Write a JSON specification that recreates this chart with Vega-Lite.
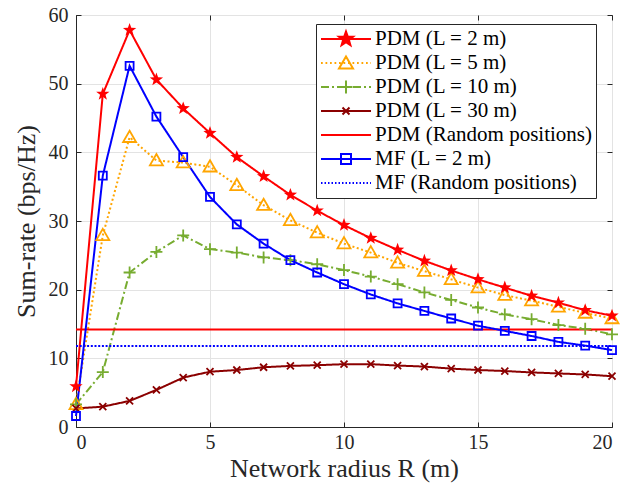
{
  "$schema": "https://vega.github.io/schema/vega-lite/v6.json",
  "width": 536,
  "height": 412,
  "autosize": {"type": "none"},
  "padding": {"left": 76, "top": 15, "right": 22, "bottom": 62},
  "background": "white",
  "config": {"view": {"stroke": "#262626", "strokeWidth": 1}, "font": "Liberation Serif, DejaVu Serif, serif"},
  "data": {"values": [
    {"s":"PDM (L = 2 m)","x":0,"y":5.9},{"s":"PDM (L = 2 m)","x":1,"y":48.5},{"s":"PDM (L = 2 m)","x":2,"y":57.8},{"s":"PDM (L = 2 m)","x":3,"y":50.6},{"s":"PDM (L = 2 m)","x":4,"y":46.4},{"s":"PDM (L = 2 m)","x":5,"y":42.8},{"s":"PDM (L = 2 m)","x":6,"y":39.3},{"s":"PDM (L = 2 m)","x":7,"y":36.5},{"s":"PDM (L = 2 m)","x":8,"y":33.8},{"s":"PDM (L = 2 m)","x":9,"y":31.5},{"s":"PDM (L = 2 m)","x":10,"y":29.4},{"s":"PDM (L = 2 m)","x":11,"y":27.5},{"s":"PDM (L = 2 m)","x":12,"y":25.8},{"s":"PDM (L = 2 m)","x":13,"y":24.2},{"s":"PDM (L = 2 m)","x":14,"y":22.8},{"s":"PDM (L = 2 m)","x":15,"y":21.5},{"s":"PDM (L = 2 m)","x":16,"y":20.3},{"s":"PDM (L = 2 m)","x":17,"y":19.1},{"s":"PDM (L = 2 m)","x":18,"y":18.1},{"s":"PDM (L = 2 m)","x":19,"y":17.0},{"s":"PDM (L = 2 m)","x":20,"y":16.2},
    {"s":"PDM (L = 5 m)","x":0,"y":3.3},{"s":"PDM (L = 5 m)","x":1,"y":27.9},{"s":"PDM (L = 5 m)","x":2,"y":42.2},{"s":"PDM (L = 5 m)","x":3,"y":38.8},{"s":"PDM (L = 5 m)","x":4,"y":38.5},{"s":"PDM (L = 5 m)","x":5,"y":37.9},{"s":"PDM (L = 5 m)","x":6,"y":35.2},{"s":"PDM (L = 5 m)","x":7,"y":32.3},{"s":"PDM (L = 5 m)","x":8,"y":30.1},{"s":"PDM (L = 5 m)","x":9,"y":28.3},{"s":"PDM (L = 5 m)","x":10,"y":26.7},{"s":"PDM (L = 5 m)","x":11,"y":25.4},{"s":"PDM (L = 5 m)","x":12,"y":23.9},{"s":"PDM (L = 5 m)","x":13,"y":22.7},{"s":"PDM (L = 5 m)","x":14,"y":21.5},{"s":"PDM (L = 5 m)","x":15,"y":20.3},{"s":"PDM (L = 5 m)","x":16,"y":19.2},{"s":"PDM (L = 5 m)","x":17,"y":18.4},{"s":"PDM (L = 5 m)","x":18,"y":17.5},{"s":"PDM (L = 5 m)","x":19,"y":16.6},{"s":"PDM (L = 5 m)","x":20,"y":15.8},
    {"s":"PDM (L = 10 m)","x":0,"y":3.3},{"s":"PDM (L = 10 m)","x":1,"y":8.0},{"s":"PDM (L = 10 m)","x":2,"y":22.5},{"s":"PDM (L = 10 m)","x":3,"y":25.5},{"s":"PDM (L = 10 m)","x":4,"y":27.9},{"s":"PDM (L = 10 m)","x":5,"y":25.9},{"s":"PDM (L = 10 m)","x":6,"y":25.4},{"s":"PDM (L = 10 m)","x":7,"y":24.7},{"s":"PDM (L = 10 m)","x":8,"y":24.3},{"s":"PDM (L = 10 m)","x":9,"y":23.7},{"s":"PDM (L = 10 m)","x":10,"y":22.85},{"s":"PDM (L = 10 m)","x":11,"y":21.9},{"s":"PDM (L = 10 m)","x":12,"y":20.8},{"s":"PDM (L = 10 m)","x":13,"y":19.6},{"s":"PDM (L = 10 m)","x":14,"y":18.5},{"s":"PDM (L = 10 m)","x":15,"y":17.4},{"s":"PDM (L = 10 m)","x":16,"y":16.4},{"s":"PDM (L = 10 m)","x":17,"y":15.7},{"s":"PDM (L = 10 m)","x":18,"y":14.85},{"s":"PDM (L = 10 m)","x":19,"y":14.3},{"s":"PDM (L = 10 m)","x":20,"y":13.5},
    {"s":"PDM (L = 30 m)","x":0,"y":2.7},{"s":"PDM (L = 30 m)","x":1,"y":2.96},{"s":"PDM (L = 30 m)","x":2,"y":3.8},{"s":"PDM (L = 30 m)","x":3,"y":5.4},{"s":"PDM (L = 30 m)","x":4,"y":7.2},{"s":"PDM (L = 30 m)","x":5,"y":8.05},{"s":"PDM (L = 30 m)","x":6,"y":8.3},{"s":"PDM (L = 30 m)","x":7,"y":8.7},{"s":"PDM (L = 30 m)","x":8,"y":8.9},{"s":"PDM (L = 30 m)","x":9,"y":9.0},{"s":"PDM (L = 30 m)","x":10,"y":9.15},{"s":"PDM (L = 30 m)","x":11,"y":9.15},{"s":"PDM (L = 30 m)","x":12,"y":8.95},{"s":"PDM (L = 30 m)","x":13,"y":8.8},{"s":"PDM (L = 30 m)","x":14,"y":8.5},{"s":"PDM (L = 30 m)","x":15,"y":8.3},{"s":"PDM (L = 30 m)","x":16,"y":8.15},{"s":"PDM (L = 30 m)","x":17,"y":7.95},{"s":"PDM (L = 30 m)","x":18,"y":7.8},{"s":"PDM (L = 30 m)","x":19,"y":7.65},{"s":"PDM (L = 30 m)","x":20,"y":7.4},
    {"s":"PDM (Random positions)","x":0,"y":14.2},{"s":"PDM (Random positions)","x":20,"y":14.2},
    {"s":"MF (L = 2 m)","x":0,"y":1.6},{"s":"MF (L = 2 m)","x":1,"y":36.6},{"s":"MF (L = 2 m)","x":2,"y":52.6},{"s":"MF (L = 2 m)","x":3,"y":45.2},{"s":"MF (L = 2 m)","x":4,"y":39.3},{"s":"MF (L = 2 m)","x":5,"y":33.5},{"s":"MF (L = 2 m)","x":6,"y":29.5},{"s":"MF (L = 2 m)","x":7,"y":26.7},{"s":"MF (L = 2 m)","x":8,"y":24.3},{"s":"MF (L = 2 m)","x":9,"y":22.5},{"s":"MF (L = 2 m)","x":10,"y":20.8},{"s":"MF (L = 2 m)","x":11,"y":19.3},{"s":"MF (L = 2 m)","x":12,"y":18.0},{"s":"MF (L = 2 m)","x":13,"y":16.9},{"s":"MF (L = 2 m)","x":14,"y":15.8},{"s":"MF (L = 2 m)","x":15,"y":14.75},{"s":"MF (L = 2 m)","x":16,"y":14.0},{"s":"MF (L = 2 m)","x":17,"y":13.25},{"s":"MF (L = 2 m)","x":18,"y":12.4},{"s":"MF (L = 2 m)","x":19,"y":11.85},{"s":"MF (L = 2 m)","x":20,"y":11.2},
    {"s":"MF (Random positions)","x":0,"y":11.8},{"s":"MF (Random positions)","x":20,"y":11.8}
  ]},
  "layer": [
    {
      "mark": {"type": "line", "strokeWidth": 2},
      "encoding": {
        "x": {"field": "x", "type": "quantitative", "scale": {"domain": [0, 20], "nice": false},
          "axis": {"orient": "bottom", "values": [0, 5, 10, 15, 20], "title": "Network radius R (m)", "grid": true, "gridColor": "#e3e3e3", "gridWidth": 1, "domainColor": "#262626", "tickColor": "#262626", "tickSize": -5, "labelPadding": 10, "labelFontSize": 20, "labelColor": "#262626", "labelFont": "Liberation Serif, DejaVu Serif, serif", "titleFont": "Liberation Serif, DejaVu Serif, serif", "titleFontSize": 26, "titleFontWeight": "normal", "titleColor": "#262626", "titlePadding": 3}},
        "y": {"field": "y", "type": "quantitative", "scale": {"domain": [0, 60], "nice": false},
          "axis": {"orient": "left", "values": [0, 10, 20, 30, 40, 50, 60], "title": "Sum-rate (bps/Hz)", "grid": true, "gridColor": "#e3e3e3", "gridWidth": 1, "domainColor": "#262626", "tickColor": "#262626", "tickSize": -5, "labelPadding": 13, "labelFontSize": 20, "labelColor": "#262626", "labelFont": "Liberation Serif, DejaVu Serif, serif", "titleFont": "Liberation Serif, DejaVu Serif, serif", "titleFontSize": 26, "titleFontWeight": "normal", "titleColor": "#262626", "titlePadding": 9}},
        "color": {"field": "s", "type": "nominal",
          "scale": {"domain": ["PDM (L = 2 m)", "PDM (L = 5 m)", "PDM (L = 10 m)", "PDM (L = 30 m)", "PDM (Random positions)", "MF (L = 2 m)", "MF (Random positions)"],
                    "range": ["#ff0000", "#ffa500", "#77ac30", "#8b0000", "#ff0000", "#0000ff", "#0000ff"]}},
        "strokeDash": {"field": "s", "type": "nominal", "legend": null,
          "scale": {"domain": ["MF (Random positions)", "MF (L = 2 m)", "PDM (Random positions)", "PDM (L = 30 m)", "PDM (L = 10 m)", "PDM (L = 5 m)", "PDM (L = 2 m)"],
                    "range": [[2, 1.7], [1, 0], [1, 0], [1, 0], [8, 3, 2, 3], [2, 2.5], [1, 0]]}}
      }
    },
    {
      "transform": [{"filter": "datum.s === 'PDM (L = 5 m)'"}],
      "mark": {"type": "point", "shape": "M0,-1.3L1.3,0.95L-1.3,0.95Z", "filled": false, "color": "#ffa500", "size": 100, "strokeWidth": 1.8, "opacity": 1},
      "encoding": {
        "x": {"field": "x", "type": "quantitative", "axis": {"orient": "top", "values": [0, 5, 10, 15, 20], "labels": false, "title": null, "grid": false, "domain": false, "tickSize": -5, "tickColor": "#262626"}},
        "y": {"field": "y", "type": "quantitative", "axis": {"orient": "right", "values": [0, 10, 20, 30, 40, 50, 60], "labels": false, "title": null, "grid": false, "domain": false, "tickSize": -5, "tickColor": "#262626"}}
      }
    },
    {
      "transform": [{"filter": "datum.s === 'PDM (L = 10 m)'"}],
      "mark": {"type": "point", "shape": "M-1.2,0L1.2,0M0,-1.2L0,1.2", "filled": false, "color": "#77ac30", "size": 100, "strokeWidth": 1.8, "opacity": 1},
      "encoding": {
        "x": {"field": "x", "type": "quantitative", "axis": null},
        "y": {"field": "y", "type": "quantitative", "axis": null}
      }
    },
    {
      "transform": [{"filter": "datum.s === 'PDM (L = 30 m)'"}],
      "mark": {"type": "point", "shape": "M-0.7,-0.7L0.7,0.7M-0.7,0.7L0.7,-0.7", "filled": false, "color": "#8b0000", "size": 100, "strokeWidth": 1.8, "opacity": 1},
      "encoding": {
        "x": {"field": "x", "type": "quantitative", "axis": null},
        "y": {"field": "y", "type": "quantitative", "axis": null}
      }
    },
    {
      "transform": [{"filter": "datum.s === 'PDM (L = 2 m)'"}],
      "mark": {"type": "point", "shape": "M0,-1.4L0.335,-0.461L1.331,-0.433L0.542,0.176L0.823,1.133L0,0.57L-0.823,1.133L-0.542,0.176L-1.331,-0.433L-0.335,-0.461Z", "filled": true, "color": "#ff0000", "size": 100, "opacity": 1},
      "encoding": {
        "x": {"field": "x", "type": "quantitative", "axis": null},
        "y": {"field": "y", "type": "quantitative", "axis": null}
      }
    },
    {
      "transform": [{"filter": "datum.s === 'MF (L = 2 m)'"}],
      "mark": {"type": "point", "shape": "M-0.8,-0.8L0.8,-0.8L0.8,0.8L-0.8,0.8Z", "filled": false, "color": "#0000ff", "size": 100, "strokeWidth": 1.8, "opacity": 1},
      "encoding": {
        "x": {"field": "x", "type": "quantitative", "axis": null},
        "y": {"field": "y", "type": "quantitative", "axis": null}
      }
    },
    {
      "transform": [{"filter": "datum.x < 0"}],
      "mark": {"type": "point", "filled": false, "opacity": 1, "strokeWidth": 2},
      "encoding": {
        "x": {"field": "x", "type": "quantitative", "axis": null},
        "y": {"field": "y", "type": "quantitative", "axis": null},
        "color": {"field": "s", "type": "nominal",
          "legend": {"title": null, "orient": "none", "legendX": 240, "legendY": 9, "fillColor": "white", "strokeColor": "#262626", "padding": 3, "cornerRadius": 0,
            "clipHeight": 24, "rowPadding": 0, "symbolSize": 2500, "symbolStrokeWidth": 2, "symbolOffset": 1, "labelOffset": 3, "symbolFillColor": "transparent", "symbolOpacity": 1,
            "labelFont": "Liberation Serif, DejaVu Serif, serif", "labelFontSize": 21, "labelColor": "#000000", "labelLimit": 400}},
        "shape": {"field": "s", "type": "nominal",
          "scale": {"domain": ["PDM (L = 2 m)", "PDM (L = 5 m)", "PDM (L = 10 m)", "PDM (L = 30 m)", "PDM (Random positions)", "MF (L = 2 m)", "MF (Random positions)"],
                    "range": [
                      "M-1,0L1,0M0,-0.3L0.072,-0.1L0.285,-0.093L0.117,0.038L0.176,0.243L0,0.123L-0.176,0.243L-0.117,0.038L-0.285,-0.093L-0.072,-0.1ZM0,-0.2L0.048,-0.067L0.19,-0.062L0.078,0.025L0.117,0.162L0,0.082L-0.117,0.162L-0.078,0.025L-0.19,-0.062L-0.048,-0.067ZM0,-0.1L0.024,-0.033L0.095,-0.031L0.039,0.013L0.059,0.081L0,0.041L-0.059,0.081L-0.039,0.013L-0.095,-0.031L-0.024,-0.033Z",
                      "M-1,0L-0.93,0M-0.82,0L-0.75,0M-0.64,0L-0.57,0M-0.46,0L-0.39,0M-0.28,0L-0.21,0M-0.1,0L-0.03,0M0.08,0L0.15,0M0.26,0L0.33,0M0.44,0L0.51,0M0.62,0L0.69,0M0.8,0L0.87,0M0.98,0L1,0M0,-0.26L0.28,0.22L-0.28,0.22Z",
                      "M-1,0L-0.68,0M-0.56,0L-0.48,0M-0.36,0L-0.04,0M0.08,0L0.16,0M0.28,0L0.6,0M0.72,0L0.8,0M0.92,0L1,0M-0.26,0L0.26,0M0,-0.26L0,0.26",
                      "M-1,0L1,0M-0.14,-0.14L0.14,0.14M-0.14,0.14L0.14,-0.14",
                      "M-1,0L1,0",
                      "M-1,0L1,0M-0.2,-0.2L0.2,-0.2L0.2,0.2L-0.2,0.2Z",
                      "M-1,0L-0.94,0M-0.86,0L-0.8,0M-0.72,0L-0.66,0M-0.58,0L-0.52,0M-0.44,0L-0.38,0M-0.3,0L-0.24,0M-0.16,0L-0.1,0M-0.02,0L0.04,0M0.12,0L0.18,0M0.26,0L0.32,0M0.4,0L0.46,0M0.54,0L0.6,0M0.68,0L0.74,0M0.82,0L0.88,0M0.96,0L1,0"
                    ]}}
      }
    }
  ],
  "resolve": {"axis": {"x": "independent", "y": "independent"}}
}
